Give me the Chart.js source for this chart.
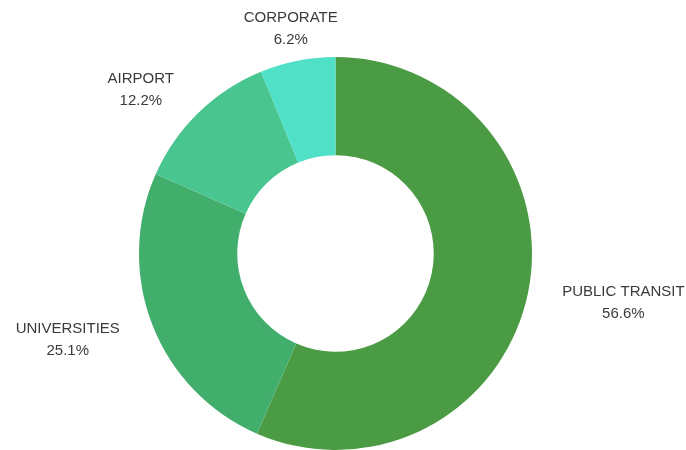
<!DOCTYPE html>
<html>
<head>
<meta charset="utf-8">
<script src="https://cdn.jsdelivr.net/npm/chart.js@4.4.1/dist/chart.umd.min.js"></script>
<style>
  html, body { margin: 0; padding: 0; background: #fff; }
  #wrap { width: 686px; height: 450px; }
</style>
</head>
<body>
<div id="wrap"><canvas id="donut" width="686" height="450"></canvas></div>
<script>
// Data
const labels = ['PUBLIC TRANSIT', 'UNIVERSITIES', 'AIRPORT', 'CORPORATE'];
const shares = [56.6, 25.1, 12.2, 6.2];
const colors = ['#4b9b44', '#42ae6c', '#49c590', '#50e0c8'];

// Outside labels: name on top, percent below
const outsideLabels = {
    id: 'outsideLabels',
    afterDatasetsDraw(chart) {
        const ctx = chart.ctx;
        const meta = chart.getDatasetMeta(0);
        ctx.save();
        ctx.font = '15px "Liberation Sans", Arial, sans-serif';
        ctx.fillStyle = '#3a3a3a';
        ctx.textAlign = 'center';
        ctx.textBaseline = 'middle';
        meta.data.forEach((arc, i) => {
            const p = arc.getProps(['x', 'y', 'startAngle', 'endAngle', 'outerRadius'], true);
            const mid = (p.startAngle + p.endAngle) / 2;
            const r = p.outerRadius + 35;
            const ax = p.x + Math.cos(mid) * r;
            const ay = p.y + Math.sin(mid) * r + 2;
            const lines = [labels[i], shares[i].toFixed(1) + '%'];
            const w = Math.max(...lines.map(t => ctx.measureText(t).width));
            const c = Math.cos(mid);
            let cx = ax;
            if (Math.abs(c) > 0.4) cx += Math.sign(c) * (w / 2);
            ctx.fillText(lines[0], cx, ay - 11);
            ctx.fillText(lines[1], cx, ay + 11);
        });
        ctx.restore();
    }
};

new Chart(document.getElementById('donut'), {
    type: 'doughnut',
    data: {
        labels: labels,
        datasets: [{
            data: shares,
            backgroundColor: colors,
            borderWidth: 0,
            hoverOffset: 0
        }]
    },
    options: {
        responsive: false,
        animation: false,
        cutout: '50%',
        layout: { padding: { top: 57, bottom: 0, left: 100, right: 115 } },
        plugins: {
            legend: { display: false },
            tooltip: { enabled: false }
        }
    },
    plugins: [outsideLabels]
});
</script>
</body>
</html>
